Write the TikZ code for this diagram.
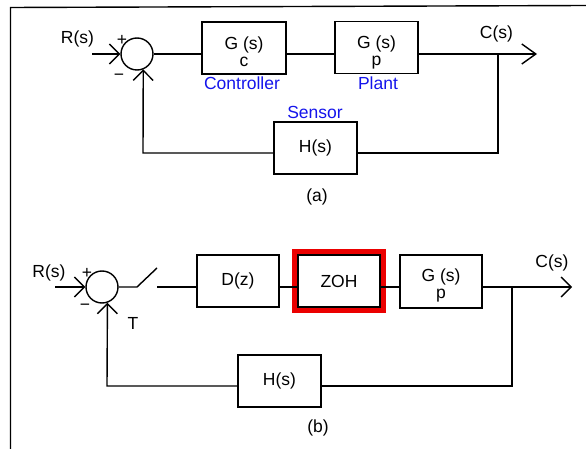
\documentclass[tikz,border=0pt]{standalone}
\usepackage{fontspec}
\setmainfont{Liberation Sans}
\usetikzlibrary{arrows.meta}
\definecolor{lblblue}{RGB}{20,20,235}
\definecolor{zohred}{RGB}{235,0,0}
\newcommand{\twoline}[3]{\raisebox{#3}[0pt][0pt]{\begin{tabular}[b]{@{}c@{}}#1\\[-0.5pt]#2\end{tabular}}}
\begin{document}
\begin{tikzpicture}[x=1pt,y=-1pt,
  every node/.style={font=\fontsize{17.5}{17.5}\selectfont, inner sep=0pt},
  ln/.style={line width=1.4pt},
  blk/.style={draw, line width=1.5pt, minimum width=83pt, minimum height=52pt, align=center},
  sumj/.style={draw, line width=1.4pt, circle, minimum size=32pt},
  blue lbl/.style={text=lblblue},
  jarr/.style={-{Straight Barb[length=10pt,width=20pt,line width=1.4pt]}},
  oarrA/.style={-{Straight Barb[length=14pt,width=20pt,line width=1.4pt]}},
  oarrB/.style={-{Straight Barb[length=10pt,width=20pt,line width=1.4pt]}}]
\useasboundingbox (0,0) rectangle (586,449);
% frame
\coordinate (fTL) at (10.5,7.5);
\coordinate (fBL) at (10.5,449);
\coordinate (fTR) at (586,5.5);
\draw[ln] (fBL) -- (fTL) -- (fTR);

% ---------- (a) ----------
\node[sumj] (sA) at (137,54) {};
\coordinate (inA) at (92,54);
\node (RA) at (77.5,39) {R(s)};
\node (pA) at (122,40) {+};
\node (mA) at (119,77) {\textminus};
\node[blk, minimum width=84pt] (Gc) at (244,48) {\twoline{G (s)}{c}{-18.5pt}};
\node[blk] (GpA) at (376.5,47.5) {\twoline{G (s)}{p}{-18.5pt}};
\node[blue lbl] (ctl) at (242,83) {Controller};
\node[blue lbl] (plt) at (378,83) {Plant};
\node[blk] (HA) at (315.5,148) {H(s)};
\node[blue lbl] (sen) at (315,112) {Sensor};
\node (CA) at (496.5,34) {C(s)};
\node (la) at (317,197) {(a)};
\coordinate (brA) at (498,54);
\coordinate (outA) at (537,54);
\coordinate (fbA) at (498,153);
\coordinate (fbA2) at (143,153);
\draw[ln,jarr] (inA) -- (sA.west);
\draw[ln] (sA.east) -- (sA.east -| Gc.west);
\draw[ln] (sA.east -| Gc.east) -- (sA.east -| GpA.west);
\draw[ln,oarrA] (sA.east -| GpA.east) -- (outA);
\draw[ln] (brA) -- (fbA) -- (fbA -| HA.east);
\draw[ln,jarr] (fbA -| HA.west) -- (fbA2) -- (sA.-68);

% ---------- (b) ----------
\node[sumj] (sB) at (102,287) {};
\coordinate (inB) at (55,287);
\node (RB) at (49,273) {R(s)};
\node (pB) at (87,273) {+};
\node (mB) at (85,307) {\textminus};
\node (T) at (133,323) {T};
\coordinate (sw1) at (137,287);
\coordinate (sw1e) at (157,268);
\coordinate (sw2) at (157,287);
\node[blk, minimum width=82pt] (D) at (238,281) {D(z)};
\node[blk, minimum width=82pt] (ZOH) at (339,281) {ZOH};
\draw[zohred, line width=5pt] ([shift={(-2.5,-2.5)}]ZOH.north west) rectangle ([shift={(2.5,2.5)}]ZOH.south east);
\node[blk, minimum width=82pt, minimum height=53pt] (GpB) at (441,281.5) {\twoline{G (s)}{p}{-16.5pt}};
\node[blk] (HB) at (279.5,381) {H(s)};
\node (CB) at (552,263) {C(s)};
\node (lb) at (318,428) {(b)};
\coordinate (brB) at (512,287);
\coordinate (outB) at (572,287);
\coordinate (fbB) at (512,386);
\coordinate (fbB2) at (107,386);
\draw[ln,jarr] (inB) -- (sB.west);
\draw[ln] (sB.east) -- (sw1) -- (sw1e);
\draw[ln] (sw2) -- (sw2 -| D.west);
\draw[ln] (sw2 -| D.east) -- (sw2 -| ZOH.west);
\draw[ln] (sw2 -| ZOH.east) -- (sw2 -| GpB.west);
\draw[ln,oarrB] (sw2 -| GpB.east) -- (outB);
\draw[ln] (brB) -- (fbB) -- (fbB -| HB.east);
\draw[ln,jarr] (fbB -| HB.west) -- (fbB2) -- (sB.-71);
\end{tikzpicture}
\end{document}
